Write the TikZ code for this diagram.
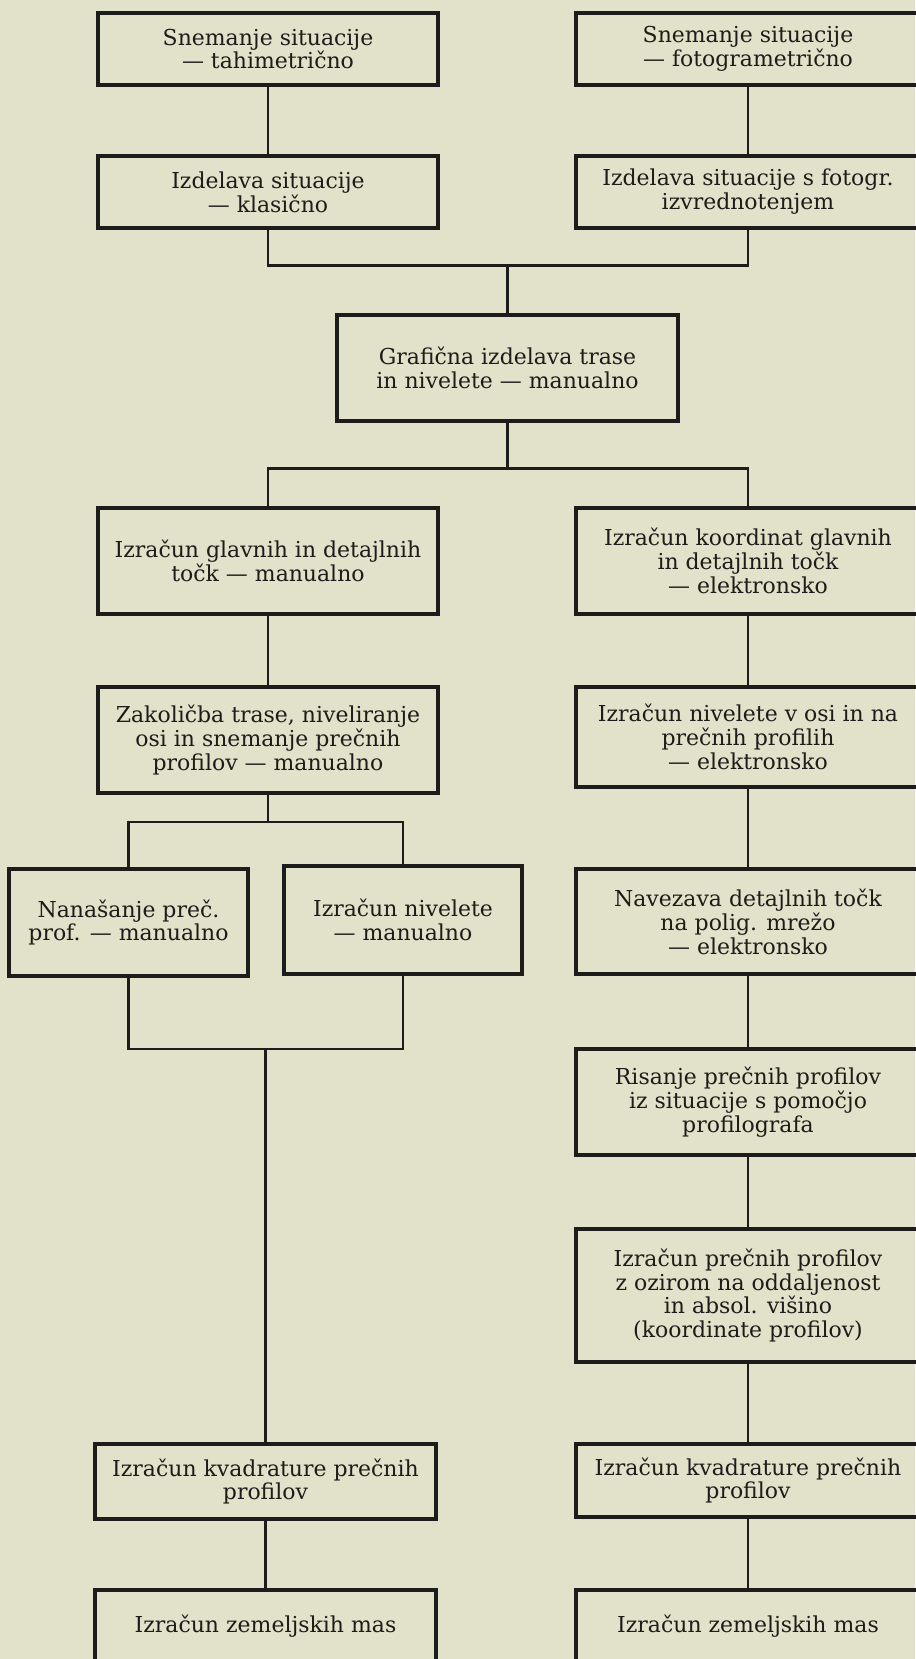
\documentclass[tikz,border=0pt]{standalone}
\usepackage{fontspec}
\setmainfont{DejaVu Serif}
\usepackage{xcolor}
\definecolor{paper}{HTML}{E2E1C9}
\definecolor{ink}{HTML}{1C1C1A}
\usetikzlibrary{positioning}

\begin{document}
\begin{tikzpicture}[node distance=1.42cm]
\tikzset{
 box/.style={draw=ink,line width=1.8pt,minimum width=6.8cm,minimum height=1.44cm,inner sep=2pt,outer sep=0pt,align=center,text=ink,font=\fontsize{12.5}{13.6}\selectfont},
 rbox/.style={box,minimum width=6.88cm},
 ln/.style={draw=ink,line width=1.5pt}
}
\useasboundingbox (0,0) rectangle (18.3,-33.18);
\fill[paper] (0,0) rectangle (18.3,-33.18);

% levi stolpec
\node[box,anchor=north] (snemT) at (5.36,-0.26) {Snemanje situacije\\--- tahimetrično};
\node[box,below=of snemT] (izdK) {Izdelava situacije\\--- klasično};
\node[box,anchor=north,minimum width=6.82cm,minimum height=2.12cm] (graf) at (10.15,-6.30) {Grafična izdelava trase\\in nivelete --- manualno};
\node[box,anchor=north,minimum height=2.12cm] (tockM) at (5.36,-10.16) {Izračun glavnih in detajlnih\\točk --- manualno};
\node[box,below=1.46cm of tockM,minimum height=2.12cm] (zakol) {Zakoličba trase, niveliranje\\osi in snemanje prečnih\\profilov --- manualno};
\node[box,anchor=north,minimum width=4.78cm,minimum height=2.14cm] (nanas) at (2.57,-17.38) {Nanašanje preč.\\prof. --- manualno};
\node[box,anchor=north,minimum width=4.76cm,minimum height=2.16cm] (nivM) at (8.06,-17.32) {Izračun nivelete\\--- manualno};
\node[box,anchor=north,minimum width=6.82cm,minimum height=1.5cm] (kvadM) at (5.31,-28.88) {Izračun kvadrature prečnih\\profilov};
\node[box,below=of kvadM,minimum width=6.82cm] (masM) {Izračun zemeljskih mas};

% desni stolpec
\node[rbox,anchor=north] (snemF) at (14.96,-0.26) {Snemanje situacije\\--- fotogrametrično};
\node[rbox,below=of snemF] (izdF) {Izdelava situacije s fotogr.\\izvrednotenjem};
\node[rbox,anchor=north,minimum height=2.12cm] (tockE) at (14.96,-10.16) {Izračun koordinat glavnih\\in detajlnih točk\\--- elektronsko};
\node[rbox,below=1.46cm of tockE,minimum height=2cm] (nivE) {Izračun nivelete v osi in na\\prečnih profilih\\--- elektronsko};
\node[rbox,below=1.64cm of nivE,minimum height=2.1cm] (navez) {Navezava detajlnih točk\\na polig. mrežo\\--- elektronsko};
\node[rbox,below=1.5cm of navez,minimum height=2.12cm] (risan) {Risanje prečnih profilov\\iz situacije s pomočjo\\profilografa};
\node[rbox,below=1.48cm of risan,minimum height=2.66cm] (profE) {Izračun prečnih profilov\\z ozirom na oddaljenost\\in absol. višino\\(koordinate profilov)};
\node[rbox,below=1.64cm of profE,minimum height=1.46cm] (kvadE) {Izračun kvadrature prečnih\\profilov};
\node[rbox,below=1.46cm of kvadE] (masE) {Izračun zemeljskih mas};

% vozlisca
\coordinate (j1) at (graf.north |- 0,-5.31);
\coordinate (j2) at (graf.south |- 0,-9.37);
\coordinate (j3) at (zakol.south |- 0,-16.44);
\coordinate (j4) at (kvadM.north |- 0,-20.98);

\draw[ln] (snemT) -- (izdK);
\draw[ln] (snemF) -- (izdF);
\draw[ln] (izdK) |- (j1) -| (izdF);
\draw[ln] (j1) -- (graf);
\draw[ln] (graf) -- (j2);
\draw[ln] (tockM) |- (j2) -| (tockE);
\draw[ln] (tockM) -- (zakol);
\draw[ln] (zakol) -- (j3);
\draw[ln] (nanas) |- (j3) -| (nivM);
\draw[ln] (nanas) |- (j4) -| (nivM);
\draw[ln] (j4) -- (kvadM);
\draw[ln] (kvadM) -- (masM);
\draw[ln] (tockE) -- (nivE);
\draw[ln] (nivE) -- (navez);
\draw[ln] (navez) -- (risan);
\draw[ln] (risan) -- (profE);
\draw[ln] (profE) -- (kvadE);
\draw[ln] (kvadE) -- (masE);
\end{tikzpicture}
\end{document}
